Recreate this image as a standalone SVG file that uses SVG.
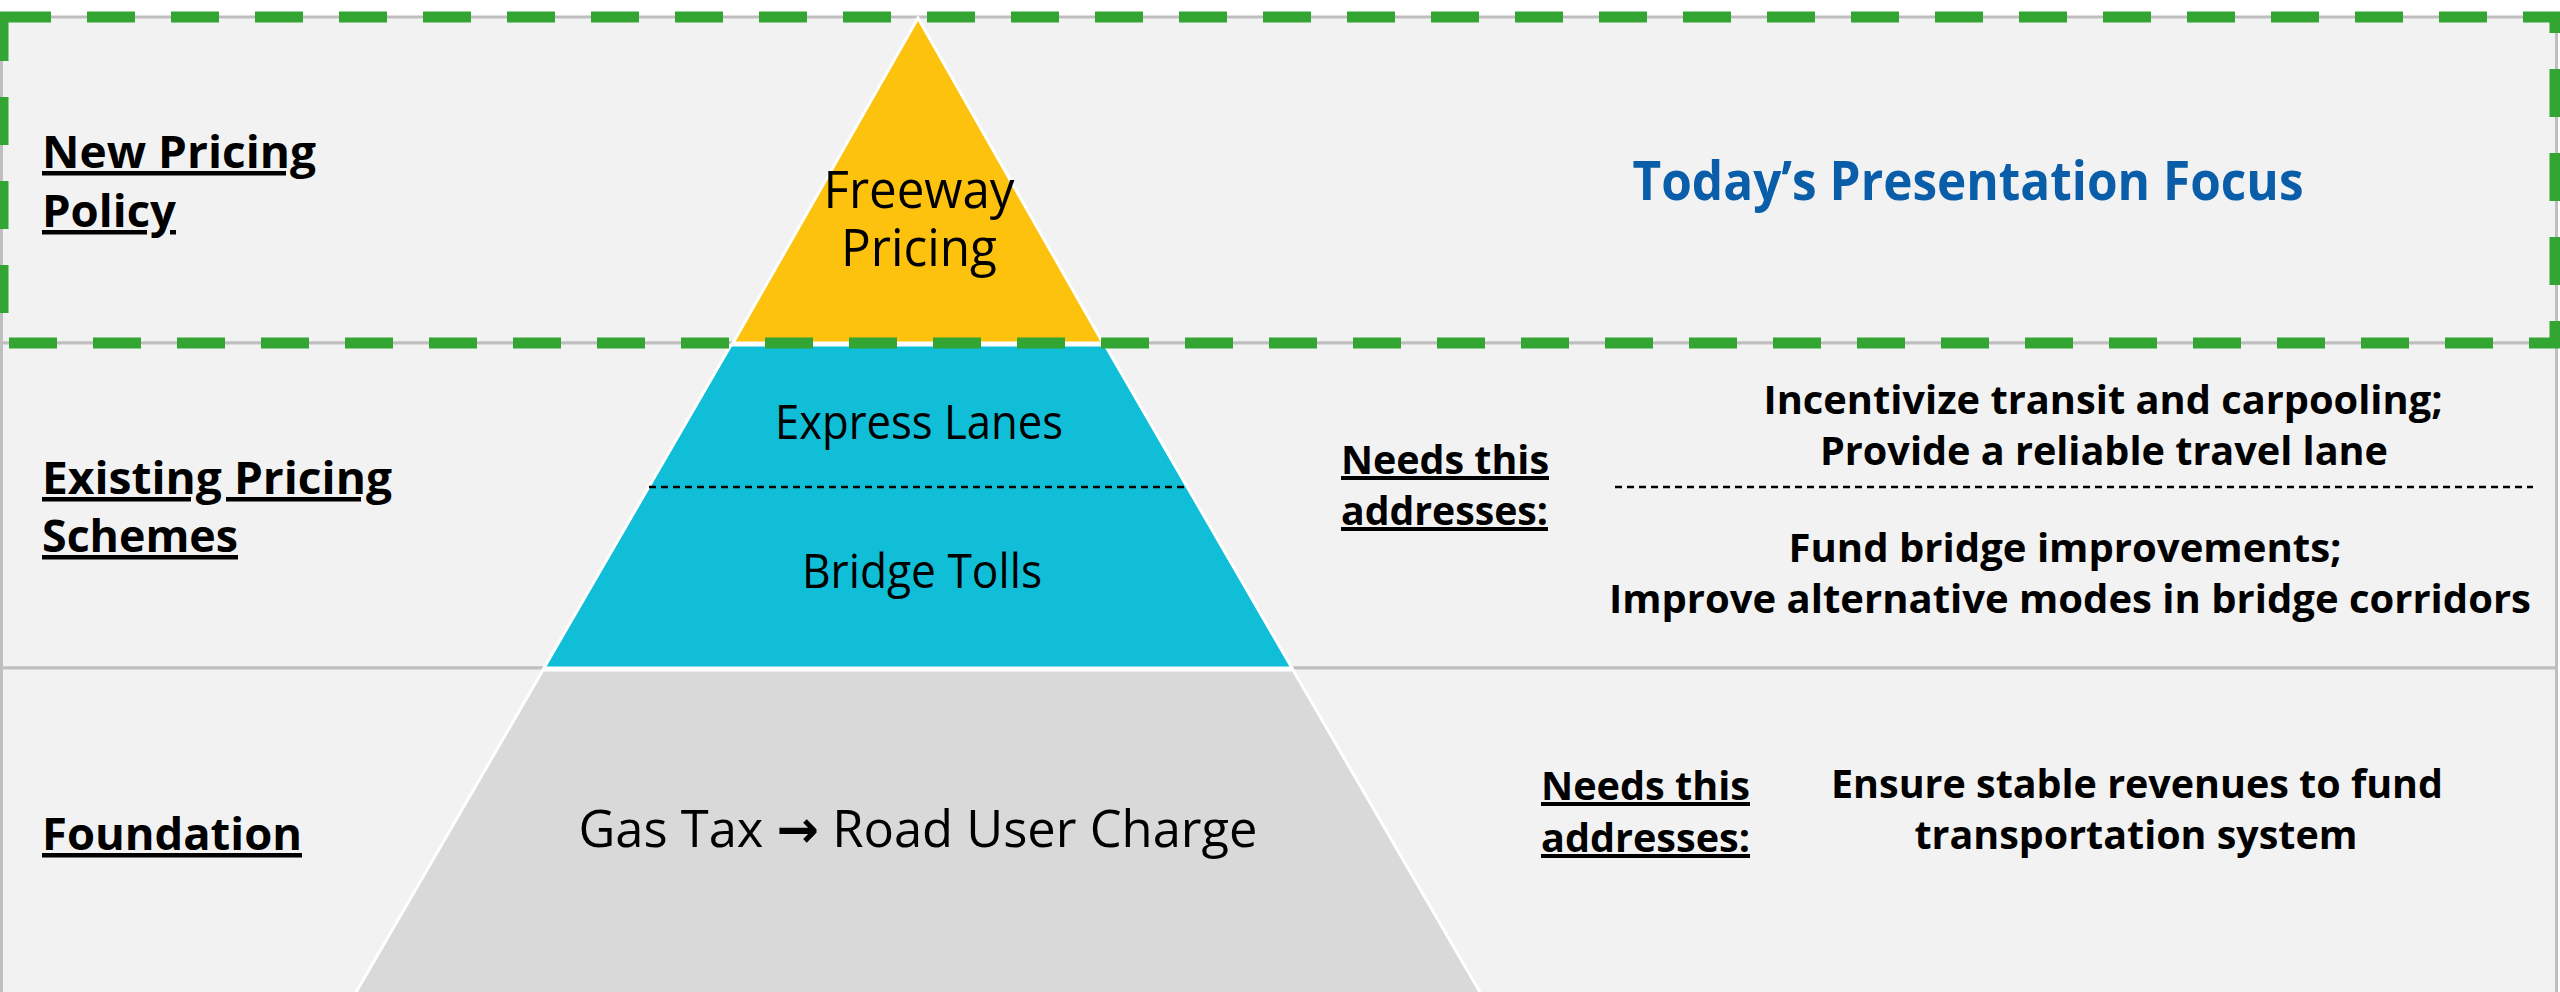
<svg xmlns="http://www.w3.org/2000/svg" width="2560" height="992" viewBox="0 0 2560 992">
  <style>
    .panel { fill: #F2F2F2; stroke: #BFBFBF; stroke-width: 3; }
    .tier { stroke: #FFFFFF; stroke-width: 3; stroke-linejoin: miter; }
    .lbl { font-family: "Open Sans", "Noto Sans", "Liberation Sans", sans-serif; font-weight: 700; font-size: 45px; fill: #000000; text-decoration: underline; }
    .tiertxt { font-family: "Open Sans", "Noto Sans", "Liberation Sans", sans-serif; font-weight: 400; fill: #000000; text-anchor: middle; }
    .need { font-family: "Open Sans", "Noto Sans", "Liberation Sans", sans-serif; font-weight: 700; font-size: 40px; fill: #000000; text-decoration: underline; }
    .desc { font-family: "Open Sans", "Noto Sans", "Liberation Sans", sans-serif; font-weight: 700; font-size: 40px; fill: #000000; text-anchor: middle; }
    .divider { stroke: #000000; stroke-width: 2.5; stroke-dasharray: 7 5; fill: none; }
  </style>
  <rect x="0" y="0" width="2560" height="992" fill="#FFFFFF"/>
  <g id="panels">
    <rect class="panel" x="1.5" y="17" width="2555" height="326"/>
    <rect class="panel" x="1.5" y="343" width="2555" height="325"/>
    <rect class="panel" x="1.5" y="668" width="2555" height="330"/>
  </g>
  <g id="tier-freeway">
    <polygon class="tier" fill="#FDC20E" points="918,18 733,343 1103,343"/>
    <text class="tiertxt" font-size="51" x="919" y="208" textLength="191" lengthAdjust="spacingAndGlyphs">Freeway</text>
    <text class="tiertxt" font-size="51" x="919" y="266" textLength="156" lengthAdjust="spacingAndGlyphs">Pricing</text>
  </g>
  <g id="tier-existing">
    <polygon class="tier" fill="#10BED7" points="731,345 1105,345 1292,668 544,668"/>
    <text class="tiertxt" font-size="47" x="919" y="439" textLength="288" lengthAdjust="spacingAndGlyphs">Express Lanes</text>
    <text class="tiertxt" font-size="47" x="922" y="588" textLength="240" lengthAdjust="spacingAndGlyphs">Bridge Tolls</text>
  </g>
  <g id="tier-foundation">
    <polygon class="tier" fill="#D9D9D9" points="543,670 1293,670 1481,994 355,994"/>
    <text class="tiertxt" font-size="52" x="918" y="847" textLength="679" lengthAdjust="spacingAndGlyphs">Gas Tax <tspan font-family="DejaVu Sans, sans-serif" font-weight="700">→</tspan> Road User Charge</text>
  </g>
  <g id="focus-frame">
    <rect x="3" y="17" width="2552" height="326" fill="none" stroke="#32A532" stroke-width="11" stroke-dasharray="48 36"/>
  </g>
  <g id="dividers">
    <line class="divider" x1="649" y1="487" x2="1188" y2="487"/>
    <line class="divider" x1="1615" y1="487" x2="2533" y2="487"/>
  </g>
  <g id="label-new">
    <text class="lbl" x="42" y="168" textLength="274" lengthAdjust="spacingAndGlyphs">New Pricing</text>
    <text class="lbl" x="42" y="227" textLength="134" lengthAdjust="spacingAndGlyphs">Policy</text>
  </g>
  <g id="focus-title">
    <text x="1968" y="200" text-anchor="middle" font-family="Open Sans, Noto Sans, Liberation Sans, sans-serif" font-weight="700" font-size="54" fill="#0A5DA8" textLength="671" lengthAdjust="spacingAndGlyphs">Today’s Presentation Focus</text>
  </g>
  <g id="label-existing">
    <text class="lbl" x="42" y="494" textLength="350" lengthAdjust="spacingAndGlyphs">Existing Pricing</text>
    <text class="lbl" x="42" y="552" textLength="196" lengthAdjust="spacingAndGlyphs">Schemes</text>
  </g>
  <g id="needs-existing">
    <text class="need" x="1341" y="474" textLength="208" lengthAdjust="spacingAndGlyphs">Needs this</text>
    <text class="need" x="1341" y="525" textLength="207" lengthAdjust="spacingAndGlyphs">addresses:</text>
  </g>
  <g id="desc-express">
    <text class="desc" x="2103" y="414" textLength="679" lengthAdjust="spacingAndGlyphs">Incentivize transit and carpooling;</text>
    <text class="desc" x="2104" y="465" textLength="568" lengthAdjust="spacingAndGlyphs">Provide a reliable travel lane</text>
  </g>
  <g id="desc-bridge">
    <text class="desc" x="2065" y="562" textLength="553" lengthAdjust="spacingAndGlyphs">Fund bridge improvements;</text>
    <text class="desc" x="2070" y="613" textLength="922" lengthAdjust="spacingAndGlyphs">Improve alternative modes in bridge corridors</text>
  </g>
  <g id="label-foundation">
    <text class="lbl" x="42" y="850" textLength="260" lengthAdjust="spacingAndGlyphs">Foundation</text>
  </g>
  <g id="needs-foundation">
    <text class="need" x="1541" y="800" textLength="209" lengthAdjust="spacingAndGlyphs">Needs this</text>
    <text class="need" x="1541" y="852" textLength="209" lengthAdjust="spacingAndGlyphs">addresses:</text>
  </g>
  <g id="desc-foundation">
    <text class="desc" x="2137" y="798" textLength="612" lengthAdjust="spacingAndGlyphs">Ensure stable revenues to fund</text>
    <text class="desc" x="2136" y="849" textLength="443" lengthAdjust="spacingAndGlyphs">transportation system</text>
  </g>
  <g id="connectors"/>
</svg>
